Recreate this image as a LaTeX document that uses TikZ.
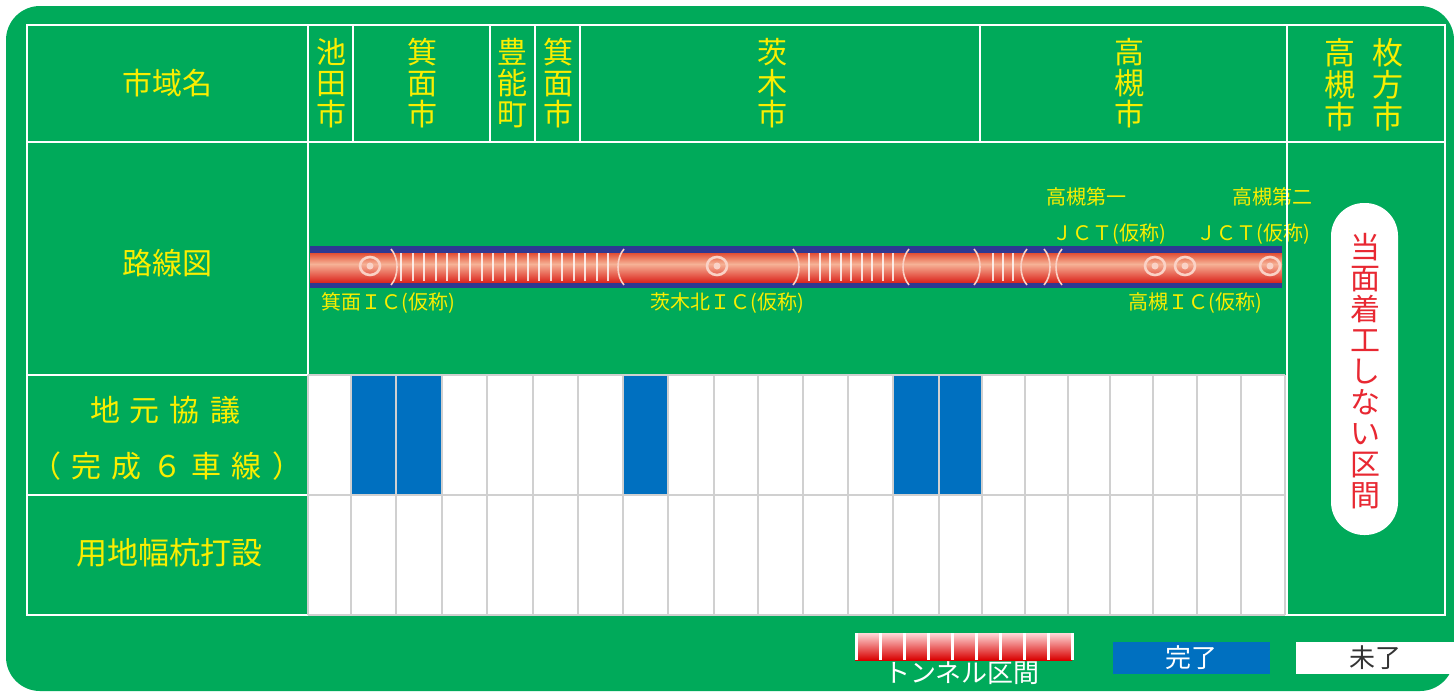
\documentclass[tikz,border=0pt]{standalone}
\usepackage{fontspec}
\setmainfont{Noto Sans CJK JP}
\definecolor{roadgreen}{RGB}{0,170,90}
\definecolor{lblyellow}{RGB}{250,238,0}
\definecolor{doneblue}{RGB}{0,112,192}
\definecolor{routeblue}{RGB}{46,56,146}
\definecolor{notered}{RGB}{232,40,50}
\definecolor{gridgray}{RGB}{208,208,208}
\definecolor{tubetop}{RGB}{226,78,52}
\definecolor{tubelight}{RGB}{246,178,150}
\definecolor{tubered}{RGB}{220,40,32}
\definecolor{ringpink}{RGB}{250,210,198}
\begin{document}
\begin{tikzpicture}[x=0.5pt,y=-0.5pt,
    hdr/.style={text=lblyellow,font=\fontsize{15}{15.5}\selectfont,align=center,inner sep=0pt},
    iclabel/.style={text=lblyellow,font=\fontsize{10}{12}\selectfont,inner sep=0pt},
    cellline/.style={white,line width=1.3pt},
    gridline/.style={gridgray,line width=1pt},
    ring/.style={ringpink,line width=1.3pt},
    bracket/.style={ringpink,line width=0.8pt},
    tunnelstripes/.style={white,opacity=0.8,line width=14pt}]
    \useasboundingbox (0,0) rectangle (1454,691);
    \fill[roadgreen,rounded corners=17pt] (6,6) rectangle (1454,691);

    % progress cells
    \fill[white] (308,375) rectangle (1285,615);
    \fill[doneblue] (351,375) rectangle (442,495);
    \fill[doneblue] (623,375) rectangle (668,495);
    \fill[doneblue] (893,375) rectangle (982,495);

    % route
    \fill[routeblue] (310,246) rectangle (1282,288);
    \shade[top color=tubetop,bottom color=tubelight] (310,253) rectangle (1282,264);
    \shade[top color=tubelight,bottom color=tubered] (310,264) rectangle (1282,282);
    \draw[tunnelstripes,dash pattern=on 1pt off 4.75pt] (400,267) -- (612,267);
    \draw[tunnelstripes,dash pattern=on 1pt off 4.25pt] (808,267) -- (896,267);
    \draw[tunnelstripes,dash pattern=on 1pt off 4pt] (992,267) -- (1014,267);
    \draw[bracket] (391,249) .. controls (399,258) and (399,276) .. (391,285);
    \draw[bracket] (624,249) .. controls (616,258) and (616,276) .. (624,285);
    \draw[bracket] (793,249) .. controls (801,258) and (801,276) .. (793,285);
    \draw[bracket] (909,249) .. controls (901,258) and (901,276) .. (909,285);
    \draw[bracket] (974,249) .. controls (982,258) and (982,276) .. (974,285);
    \draw[bracket] (1027,249) .. controls (1019,258) and (1019,276) .. (1027,285);
    \draw[bracket] (1044,249) .. controls (1052,258) and (1052,276) .. (1044,285);
    \draw[bracket] (1062,249) .. controls (1054,258) and (1054,276) .. (1062,285);
    \draw[ring] (370,266) ellipse (10 and 9);
    \fill[ringpink] (370,266) circle (3.5);
    \draw[ring] (717,266) ellipse (10 and 9);
    \fill[ringpink] (717,266) circle (3.5);
    \draw[ring] (1155,266) ellipse (10 and 9);
    \fill[ringpink] (1155,266) circle (3.5);
    \draw[ring] (1185,266) ellipse (10 and 9);
    \fill[ringpink] (1185,266) circle (3.5);
    \draw[ring] (1270,266) ellipse (10 and 9);
    \fill[ringpink] (1270,266) circle (3.5);

    % header
    \node[hdr] (cityhead) at (167,83) {市域名};
    \node[hdr] (ikeda) at (331,83) {池\\田\\市};
    \node[hdr] (minoh) at (422,83) {箕\\面\\市};
    \node[hdr] (toyono) at (512,83) {豊\\能\\町};
    \node[hdr] (minohb) at (558,83) {箕\\面\\市};
    \node[hdr] (ibaraki) at (772,83) {茨\\木\\市};
    \node[hdr] (takatsuki) at (1129,83) {高\\槻\\市};
    \node[hdr,font=\fontsize{15.5}{16}\selectfont] (takatsukib) at (1340,85) {高\\槻\\市};
    \node[hdr,font=\fontsize{15.5}{16}\selectfont] (hirakata) at (1388,85) {枚\\方\\市};

    % row labels
    \node[hdr] (routehead) at (167,263) {路線図};
    \node[hdr] (talkhead) at (165,410) {地\kern5pt 元\kern5pt 協\kern5pt 議};
    \node[hdr] (talkheadb) at (167,466) {（\kern5pt 完\kern5pt 成\kern5pt ６\kern5pt 車\kern5pt 線\kern5pt ）};
    \node[hdr,font=\fontsize{15.5}{16}\selectfont] (stakehead) at (169,553) {用地幅杭打設};

    % interchange labels
    \node[iclabel] (icminoh) at (388,303) {箕面ＩＣ(仮称)};
    \node[iclabel] (icibaraki) at (727,303) {茨木北ＩＣ(仮称)};
    \node[iclabel] (ictakatsuki) at (1195,303) {高槻ＩＣ(仮称)};
    \node[iclabel] (jctone) at (1086,197) {高槻第一};
    \node[iclabel] (jctonesub) at (1109,234) {ＪＣＴ(仮称)};
    \node[iclabel] (jcttwo) at (1272,197) {高槻第二};
    \node[iclabel] (jcttwosub) at (1253,234) {ＪＣＴ(仮称)};

    % table lines
    \draw[cellline] (27,25) rectangle (1445,615);
    \draw[cellline] (27,142) -- (1445,142);
    \draw[cellline] (27,375) -- (308,375);
    \draw[cellline] (27,495) -- (308,495);
    \draw[cellline] (308,25) -- (308,615);
    \draw[cellline] (1287,25) -- (1287,615);
    \draw[cellline] (353,25) -- (353,142);
    \draw[cellline] (490,25) -- (490,142);
    \draw[cellline] (535,25) -- (535,142);
    \draw[cellline] (580,25) -- (580,142);
    \draw[cellline] (980,25) -- (980,142);

    % grid
    \draw[gridline] (308,375) -- (1285,375);
    \draw[gridline] (308,495) -- (1285,495);
    \draw[gridline] (308,615) -- (1285,615);
    \draw[gridline] (308,375) -- (308,615);
    \draw[gridline] (351,375) -- (351,615);
    \draw[gridline] (396,375) -- (396,615);
    \draw[gridline] (442,375) -- (442,615);
    \draw[gridline] (487,375) -- (487,615);
    \draw[gridline] (533,375) -- (533,615);
    \draw[gridline] (578,375) -- (578,615);
    \draw[gridline] (623,375) -- (623,615);
    \draw[gridline] (668,375) -- (668,615);
    \draw[gridline] (714,375) -- (714,615);
    \draw[gridline] (758,375) -- (758,615);
    \draw[gridline] (803,375) -- (803,615);
    \draw[gridline] (848,375) -- (848,615);
    \draw[gridline] (893,375) -- (893,615);
    \draw[gridline] (939,375) -- (939,615);
    \draw[gridline] (982,375) -- (982,615);
    \draw[gridline] (1025,375) -- (1025,615);
    \draw[gridline] (1068,375) -- (1068,615);
    \draw[gridline] (1110,375) -- (1110,615);
    \draw[gridline] (1153,375) -- (1153,615);
    \draw[gridline] (1197,375) -- (1197,615);
    \draw[gridline] (1241,375) -- (1241,615);
    \draw[gridline] (1285,375) -- (1285,615);

    % not started
    \fill[white,rounded corners=16.5pt] (1331,203) rectangle (1398,535);
    \node[hdr,text=notered] (pilltext) at (1365,371) {当\\面\\着\\工\\し\\な\\い\\区\\間};

    % legend
    \shade[top color=white!85!red,middle color=red!45!white,bottom color=red!85!black] (855,633) rectangle (1072,660);
    \draw[white,line width=13.5pt,dash pattern=on 1.5pt off 10.5pt] (855,646.5) -- (1074,646.5);
    \node[hdr,text=white,font=\fontsize{13}{14}\selectfont] (legtunnel) at (962,673) {トンネル区間};
    \fill[doneblue] (1113,642) rectangle (1270,674);
    \node[hdr,text=white,font=\fontsize{13}{14}\selectfont] (legdone) at (1191,658) {完了};
    \fill[white] (1296,642) rectangle (1454,674);
    \node[hdr,text=black!80,font=\fontsize{13}{14}\selectfont] (legopen) at (1375,658) {未了};
\end{tikzpicture}
\end{document}
